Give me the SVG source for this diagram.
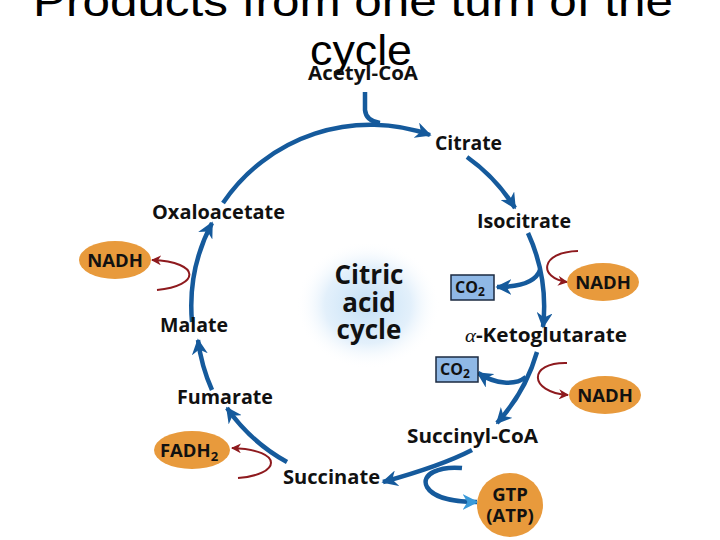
<svg xmlns="http://www.w3.org/2000/svg" width="720" height="540" viewBox="0 0 720 540">
<style>
.title{font-family:"Liberation Sans",Arial,sans-serif;font-size:42px;fill:#000}
.lbl{font-family:"Open Sans","Liberation Sans",Arial,sans-serif;font-weight:bold;font-size:19.5px;fill:#111}
.ctr{font-family:"Open Sans","Liberation Sans",Arial,sans-serif;font-weight:bold;font-size:26px;fill:#111;text-anchor:middle}
.nd{font-family:"Open Sans","Liberation Sans",Arial,sans-serif;font-weight:bold;font-size:18.5px;fill:#111;text-anchor:middle}
.co{font-family:"Open Sans","Liberation Sans",Arial,sans-serif;font-weight:bold;font-size:16px;fill:#111}
.orange{fill:#e89a3c}
.box{fill:#8fb8e6;stroke:#1b2a40;stroke-width:1.5}
.blue{fill:none;stroke:#155a9c;stroke-width:4.5;stroke-linecap:butt}
.red{fill:none;stroke:#8e1a1e;stroke-width:2}
</style>
<defs>
<marker id="ab" viewBox="0 0 10 10" refX="9" refY="5" markerWidth="16" markerHeight="16" markerUnits="userSpaceOnUse" orient="auto">
<path d="M0,0 L10,5 L0,10 L3,5 z" fill="#155a9c"/>
</marker>
<marker id="al" viewBox="0 0 10 10" refX="9" refY="5" markerWidth="16" markerHeight="16" markerUnits="userSpaceOnUse" orient="auto">
<path d="M0,0 L10,5 L0,10 L3,5 z" fill="#3a9ad9"/>
</marker>
<marker id="ar" viewBox="0 0 10 10" refX="9" refY="5" markerWidth="10" markerHeight="10" markerUnits="userSpaceOnUse" orient="auto">
<path d="M0,0 L10,5 L0,10 L3,5 z" fill="#8e1a1e"/>
</marker>
<radialGradient id="glow" cx="0.5" cy="0.5" r="0.5">
<stop offset="0" stop-color="#c4e0f6"/>
<stop offset="0.6" stop-color="#e3f0fb"/>
<stop offset="1" stop-color="#ffffff" stop-opacity="0"/>
</radialGradient>
</defs>
<rect width="720" height="540" fill="#fff"/>
<text class="title" x="33" y="16" textLength="640" lengthAdjust="spacingAndGlyphs">Products from one turn of the</text>
<text class="title" x="310" y="65" textLength="102" lengthAdjust="spacingAndGlyphs">cycle</text>

<g id="center">
<ellipse cx="368" cy="305" rx="72" ry="64" fill="url(#glow)"/>
<text class="ctr" x="369" y="284">Citric</text>
<text class="ctr" x="369" y="312">acid</text>
<text class="ctr" x="369" y="339">cycle</text>
</g>

<g id="connectors">
<path class="blue" d="M365,92 L365,110 Q366,121 380,123"/>
<path class="blue" d="M223,203 A178,178 0 0 1 430,135" marker-end="url(#ab)"/>
<path class="blue" d="M467,157 A178,178 0 0 1 515,208" marker-end="url(#ab)"/>
<path class="blue" d="M528,233 A178,178 0 0 1 543,327" marker-end="url(#ab)"/>
<path class="blue" d="M540,270 C535,284 515,287 497,287" marker-end="url(#ab)"/>
<path class="red" d="M578,251 C540,252 538,278 567,282" marker-end="url(#ar)"/>
<path class="blue" d="M537,352 A178,178 0 0 1 497,423" marker-end="url(#ab)"/>
<path class="blue" d="M526,377 C515,386 495,384 478,373" marker-end="url(#ab)"/>
<path class="red" d="M567,363 C528,362 528,392 568,395" marker-end="url(#ar)"/>
<path class="blue" d="M472,450 C445,464 412,474 383,482" marker-end="url(#ab)"/>
<path class="blue" d="M462,468 C440,466 420,474 427,487 C434,499 458,502 477,502" marker-end="url(#al)"/>
<path class="blue" d="M287,462 A178,178 0 0 1 227,408" marker-end="url(#ab)"/>
<path class="red" d="M238,478 C280,475 286,450 232,448" marker-end="url(#ar)"/>
<path class="blue" d="M212,390 A178,178 0 0 1 198,340" marker-end="url(#ab)"/>
<path class="blue" d="M192,322 A178,178 0 0 1 212,223" marker-end="url(#ab)"/>
<path class="red" d="M157,290 C200,286 202,262 152,260" marker-end="url(#ar)"/>
</g>

<g id="acetyl-coa"><text class="lbl" x="308" y="80" textLength="110" lengthAdjust="spacingAndGlyphs">Acetyl-CoA</text></g>
<g id="citrate"><text class="lbl" x="435" y="150" textLength="67" lengthAdjust="spacingAndGlyphs">Citrate</text></g>
<g id="isocitrate"><text class="lbl" x="477" y="228" textLength="94" lengthAdjust="spacingAndGlyphs">Isocitrate</text></g>
<g id="ketoglutarate"><text class="lbl" x="465" y="342" textLength="162" lengthAdjust="spacingAndGlyphs"><tspan font-style="italic" font-family="Liberation Serif,serif" font-weight="normal">α</tspan>-Ketoglutarate</text></g>
<g id="succinyl-coa"><text class="lbl" x="407" y="443" textLength="131" lengthAdjust="spacingAndGlyphs">Succinyl-CoA</text></g>
<g id="succinate"><text class="lbl" x="283" y="484" textLength="97" lengthAdjust="spacingAndGlyphs">Succinate</text></g>
<g id="fumarate"><text class="lbl" x="177" y="404" textLength="96" lengthAdjust="spacingAndGlyphs">Fumarate</text></g>
<g id="malate"><text class="lbl" x="160" y="332" textLength="68" lengthAdjust="spacingAndGlyphs">Malate</text></g>
<g id="oxaloacetate"><text class="lbl" x="152" y="219" textLength="133" lengthAdjust="spacingAndGlyphs">Oxaloacetate</text></g>

<g id="co2-1">
<rect class="box" x="451" y="275" width="43" height="25"/>
<text class="co" x="455" y="293">CO<tspan font-size="12" dy="3">2</tspan></text>
</g>
<g id="co2-2">
<rect class="box" x="436" y="357" width="42" height="25"/>
<text class="co" x="440" y="375">CO<tspan font-size="12" dy="3">2</tspan></text>
</g>
<g id="nadh-1">
<ellipse class="orange" cx="603" cy="282" rx="36" ry="19"/>
<text class="nd" x="603" y="289">NADH</text>
</g>
<g id="nadh-2">
<ellipse class="orange" cx="605" cy="395" rx="36" ry="19"/>
<text class="nd" x="605" y="402">NADH</text>
</g>
<g id="nadh-3">
<ellipse class="orange" cx="115" cy="260" rx="36" ry="19"/>
<text class="nd" x="115" y="267">NADH</text>
</g>
<g id="fadh2">
<ellipse class="orange" cx="192" cy="450" rx="38" ry="19"/>
<text class="nd" x="189" y="457">FADH<tspan font-size="13" dy="4">2</tspan></text>
</g>
<g id="gtp">
<ellipse class="orange" cx="510" cy="505" rx="33" ry="32"/>
<text class="nd" x="510" y="501">GTP</text>
<text class="nd" x="510" y="522">(ATP)</text>
</g>
</svg>
